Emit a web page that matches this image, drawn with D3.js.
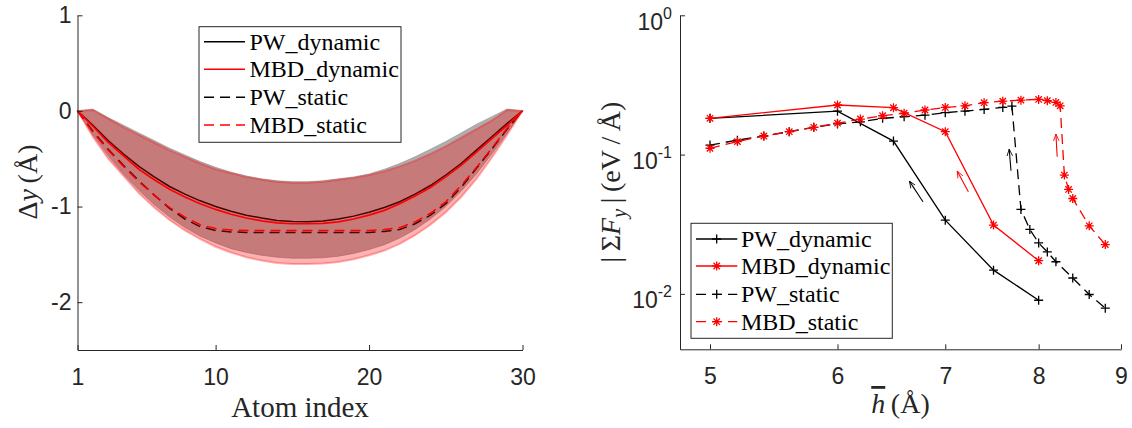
<!DOCTYPE html>
<html><head><meta charset="utf-8">
<script src="https://cdn.jsdelivr.net/npm/d3@7"></script>
<style>body{margin:0;background:#fff} svg{display:block}</style>
</head><body><svg id="c" width="1132" height="428"></svg>
<script>
// ---------------- DATA (left panel) ----------------
const atomIndex = [1,2,3,4,5,6,7,8,9,10,11,12,13,14,15,16,17,18,19,20,21,22,23,24,25,26,27,28,29,30];
const pwDynMean  = [0,-0.15,-0.31,-0.45,-0.58,-0.69,-0.79,-0.87,-0.94,-1.00,-1.05,-1.09,-1.12,-1.145,-1.157,-1.16,-1.15,-1.13,-1.10,-1.06,-1.01,-0.95,-0.87,-0.78,-0.67,-0.55,-0.41,-0.27,-0.13,0];
const mbdDynMean = [0,-0.16,-0.33,-0.47,-0.61,-0.72,-0.82,-0.90,-0.97,-1.03,-1.08,-1.12,-1.15,-1.17,-1.18,-1.18,-1.175,-1.16,-1.13,-1.09,-1.04,-0.97,-0.89,-0.80,-0.69,-0.57,-0.43,-0.29,-0.15,0];
const pwStaMean  = [0,-0.21,-0.40,-0.57,-0.73,-0.88,-1.02,-1.13,-1.21,-1.25,-1.265,-1.27,-1.27,-1.27,-1.27,-1.27,-1.27,-1.27,-1.27,-1.27,-1.26,-1.24,-1.18,-1.09,-0.97,-0.80,-0.60,-0.40,-0.19,0];
const mbdStaMean = [0,-0.22,-0.41,-0.58,-0.74,-0.88,-1.01,-1.11,-1.19,-1.23,-1.245,-1.25,-1.25,-1.25,-1.25,-1.25,-1.25,-1.25,-1.25,-1.25,-1.24,-1.22,-1.16,-1.07,-0.95,-0.78,-0.59,-0.39,-0.18,0];
const pwBandUp   = [0,0.02,-0.07,-0.15,-0.23,-0.31,-0.39,-0.46,-0.53,-0.59,-0.64,-0.68,-0.71,-0.73,-0.74,-0.74,-0.73,-0.71,-0.69,-0.66,-0.61,-0.55,-0.48,-0.40,-0.32,-0.23,-0.14,-0.06,0.02,0];
const pwBandLo   = [0,-0.25,-0.47,-0.66,-0.83,-0.98,-1.11,-1.22,-1.31,-1.38,-1.44,-1.48,-1.51,-1.53,-1.54,-1.54,-1.535,-1.52,-1.49,-1.45,-1.40,-1.33,-1.24,-1.13,-1.00,-0.84,-0.66,-0.45,-0.23,0];
const mbdBandUp  = [0,0.01,-0.08,-0.17,-0.25,-0.33,-0.41,-0.48,-0.55,-0.61,-0.65,-0.69,-0.72,-0.74,-0.75,-0.75,-0.74,-0.72,-0.70,-0.67,-0.63,-0.58,-0.52,-0.45,-0.37,-0.28,-0.19,-0.10,0.01,0];
const mbdBandLo  = [0,-0.27,-0.50,-0.68,-0.86,-1.01,-1.14,-1.25,-1.34,-1.42,-1.48,-1.53,-1.565,-1.59,-1.60,-1.60,-1.595,-1.58,-1.55,-1.51,-1.46,-1.39,-1.30,-1.19,-1.06,-0.90,-0.71,-0.49,-0.25,0];
const xTicksL = [1,10,20,30];
const yTicksL = [-2,-1,0,1];

// ---------------- DATA (right panel) ----------------
const hDyn = [5,6,6.5,7,7.5,8];
const pwDyn = [0.182,0.205,0.125,0.0338,0.0148,0.0090];
const mbdDyn = [0.182,0.227,0.217,0.146,0.0312,0.0173];
const hPwSta = [5,5.2,5.4,5.6,5.8,6.0,6.2,6.4,6.6,6.8,7.0,7.2,7.4,7.6,7.7,7.8,7.9,8.0,8.1,8.2,8.4,8.6,8.8];
const pwSta = [0.117,0.127,0.136,0.146,0.157,0.166,0.172,0.182,0.187,0.192,0.200,0.205,0.211,0.218,0.223,0.0404,0.029,0.0232,0.020,0.017,0.0130,0.0099,0.0079];
const hMbdSta = [5,5.2,5.4,5.6,5.8,6.0,6.2,6.4,6.6,6.8,7.0,7.2,7.4,7.6,7.8,8.0,8.1,8.2,8.25,8.3,8.35,8.4,8.6,8.8];
const mbdSta = [0.111,0.124,0.136,0.146,0.157,0.168,0.180,0.190,0.198,0.209,0.218,0.224,0.236,0.242,0.246,0.249,0.244,0.237,0.224,0.0713,0.0562,0.0484,0.0308,0.0226];
const xTicksR = [5,6,7,8,9];
const yTicksR = [1,0.1,0.01];
const yTickExp = ['0','-1','-2'];
// annotation arrows (data coords): tail -> head
const arrowTailX = [6.78,7.235,7.69,8.215];
const arrowTailY = [0.0458,0.054,0.0765,0.0964];
const arrowHeadX = [6.65,7.12,7.67,8.20];
const arrowHeadY = [0.0645,0.0761,0.1095,0.1404];
const arrowColor = ['#000','#f00','#000','#f00'];

const legendNames = ['PW_dynamic','MBD_dynamic','PW_static','MBD_static'];

// ---------------- STYLE ----------------
const SANS = "'Liberation Sans', Arial, Helvetica, sans-serif";
const SERIF = "'Liberation Serif', 'Times New Roman', serif";
const AX = '#262626';
const DASH = '10,6';

const svg = d3.select('#c');
const defs = svg.append('defs');
['#000','#f00'].forEach((c,i)=>{
  defs.append('marker').attr('id','ah'+i).attr('viewBox','0 0 10 10').attr('refX',10).attr('refY',5)
    .attr('markerWidth',7).attr('markerHeight',7).attr('orient','auto').attr('markerUnits','userSpaceOnUse')
    .append('path').attr('d','M0,1 L10,5 L0,9').attr('fill','none').attr('stroke',c).attr('stroke-width',1.2);
});

function styleAxis(g){
  g.attr('font-family',SANS).attr('font-size',23);
  g.select('.domain').attr('stroke',AX).attr('stroke-width',1);
  g.selectAll('.tick line').attr('stroke',AX).attr('stroke-width',1);
  g.selectAll('.tick text').attr('fill',AX);
}

// ================= LEFT PANEL =================
const xL = d3.scaleLinear().domain([1,30]).range([77.5,522.5]);
const yL = d3.scaleLinear().domain([-2.5,1]).range([350,15.3]);
const gL = svg.append('g');

const band = (lo,up)=> d3.area().x((d,i)=>xL(atomIndex[i])).y0((d,i)=>yL(lo[i])).y1((d,i)=>yL(up[i]))(atomIndex);
const lineL = arr => d3.line().x((d,i)=>xL(atomIndex[i])).y(d=>yL(d))(arr);

gL.append('path').attr('d',band(pwBandLo,pwBandUp)).attr('fill','rgb(128,128,128)').attr('fill-opacity',0.63)
  .attr('stroke','rgb(128,128,128)').attr('stroke-opacity',0.5).attr('stroke-width',1);
gL.append('path').attr('d',lineL(pwDynMean)).attr('fill','none').attr('stroke','#000').attr('stroke-width',1.5);
gL.append('path').attr('d',lineL(pwStaMean)).attr('fill','none').attr('stroke','#000').attr('stroke-width',1.5).attr('stroke-dasharray',DASH);
gL.append('path').attr('d',band(mbdBandLo,mbdBandUp)).attr('fill','rgb(255,0,0)').attr('fill-opacity',0.3)
  .attr('stroke','rgb(255,0,0)').attr('stroke-opacity',0.3).attr('stroke-width',2);
gL.append('path').attr('d',lineL(mbdDynMean)).attr('fill','none').attr('stroke','#f00').attr('stroke-width',1.7);
gL.append('path').attr('d',lineL(mbdStaMean)).attr('fill','none').attr('stroke','#f00').attr('stroke-width',1.5).attr('stroke-dasharray',DASH);

gL.append('g').attr('transform',`translate(0,${yL.range()[0]})`)
  .call(d3.axisBottom(xL).tickValues(xTicksL).tickFormat(d=>String(d)).tickSizeInner(-5).tickSizeOuter(0).tickPadding(18.5))
  .call(styleAxis);
gL.append('g').attr('transform',`translate(${xL.range()[0]},0)`)
  .call(d3.axisLeft(yL).tickValues(yTicksL).tickFormat(d=>String(d)).tickSizeInner(-5).tickSizeOuter(0).tickPadding(6))
  .call(styleAxis);

gL.append('text').attr('x',(xL.range()[0]+xL.range()[1])/2).attr('y',416.5).attr('text-anchor','middle')
  .attr('font-family',SERIF).attr('font-size',29).attr('fill',AX).text('Atom index');
const ylabL = gL.append('text').attr('transform','translate(37,182) rotate(-90)').attr('text-anchor','middle')
  .attr('font-family',SERIF).attr('font-size',28).attr('fill',AX);
ylabL.append('tspan').text('\u0394');
ylabL.append('tspan').attr('font-style','italic').text('y');
ylabL.append('tspan').text('\u2009(\u00C5)');

// left legend
const legL = gL.append('g');
legL.append('rect').attr('x',199).attr('y',26.7).attr('width',202).attr('height',115.6)
  .attr('fill','#fff').attr('stroke',AX).attr('stroke-width',1);
const legLY = [41.7,69.3,97.3,125];
const legLStyle = [['#000',null],['#f00',null],['#000',DASH],['#f00',DASH]];
legendNames.forEach((n,i)=>{
  legL.append('line').attr('x1',204).attr('x2',245).attr('y1',legLY[i]).attr('y2',legLY[i])
    .attr('stroke',legLStyle[i][0]).attr('stroke-width',1.5).attr('stroke-dasharray',legLStyle[i][1]);
  legL.append('text').attr('x',249.5).attr('y',legLY[i]+8).attr('font-family',SERIF).attr('font-size',24)
    .attr('fill','#000').text(n);
});

// ================= RIGHT PANEL =================
const xR = d3.scaleLog().domain([4.79,9]).range([680,1121]);
const yR = d3.scaleLog().domain([0.004,1]).range([349.3,15.3]);
const gR = svg.append('g');
const plusP = 'M-4.5,0H4.5M0,-4.5V4.5';
const starP = 'M-4.5,0H4.5M0,-4.5V4.5M-3.2,-3.2L3.2,3.2M-3.2,3.2L3.2,-3.2';

function series(xs, ys, color, dash, mk){
  const ln = d3.line().x((d,i)=>xR(xs[i])).y(d=>yR(d));
  gR.append('path').attr('d',ln(ys)).attr('fill','none').attr('stroke',color).attr('stroke-width',1.3)
    .attr('stroke-dasharray',dash);
  gR.append('g').selectAll('path').data(ys).join('path')
    .attr('transform',(d,i)=>`translate(${xR(xs[i])},${yR(d)})`)
    .attr('d',mk).attr('fill','none').attr('stroke',color).attr('stroke-width',1.3);
}
series(hDyn,pwDyn,'#000',null,plusP);
series(hDyn,mbdDyn,'#f00',null,starP);
series(hPwSta,pwSta,'#000',DASH,plusP);
series(hMbdSta,mbdSta,'#f00',DASH,starP);

arrowTailX.forEach((d,i)=>{
  gR.append('line').attr('x1',xR(arrowTailX[i])).attr('y1',yR(arrowTailY[i]))
    .attr('x2',xR(arrowHeadX[i])).attr('y2',yR(arrowHeadY[i]))
    .attr('stroke',arrowColor[i]).attr('stroke-width',1.1)
    .attr('marker-end',`url(#ah${arrowColor[i]==='#000'?0:1})`);
});

gR.append('g').attr('transform',`translate(0,${yR.range()[0]})`)
  .call(d3.axisBottom(xR).tickValues(xTicksR).tickFormat(d=>String(d)).tickSizeInner(-5).tickSizeOuter(0).tickPadding(18.5))
  .call(styleAxis);
const gyR = gR.append('g').attr('transform',`translate(${xR.range()[0]},0)`)
  .call(d3.axisLeft(yR).tickValues(yTicksR).tickFormat('').tickSizeInner(-5).tickSizeOuter(0))
  .call(styleAxis);
gyR.selectAll('.tick text').each(function(d,i){
  const t = d3.select(this).text(null).attr('x',-8).attr('dy',null).attr('y',14).attr('text-anchor','end');
  t.append('tspan').text('10');
  t.append('tspan').attr('font-size',16).attr('dy',-11).text(yTickExp[i]);
});

const xlabR = gR.append('text').attr('x',(xR.range()[0]+xR.range()[1])/2).attr('y',413).attr('text-anchor','middle')
  .attr('font-family',SERIF).attr('font-size',28).attr('fill',AX);
xlabR.append('tspan').attr('font-style','italic').style('text-decoration','overline').text('h');
xlabR.append('tspan').text('\u2009(\u00C5)');

const ylabR = gR.append('text').attr('transform','translate(620,182) rotate(-90)').attr('text-anchor','middle')
  .attr('font-family',SERIF).attr('font-size',28).attr('fill',AX);
ylabR.append('tspan').text('|\u2009\u03A3');
ylabR.append('tspan').attr('font-style','italic').text('F');
ylabR.append('tspan').attr('font-style','italic').attr('font-size',20).attr('dy',6).text('y');
ylabR.append('tspan').attr('dy',-6).text('\u2009|\u2009(eV\u2009/\u2009\u00C5)');

// right legend
const legR = gR.append('g');
legR.append('rect').attr('x',691).attr('y',223.3).attr('width',201.3).attr('height',115)
  .attr('fill','#fff').attr('stroke',AX).attr('stroke-width',1);
const legRY = [239,266,294.3,321.7];
const legRStyle = [['#000',null,plusP],['#f00',null,starP],['#000',DASH,plusP],['#f00',DASH,starP]];
legendNames.forEach((n,i)=>{
  legR.append('line').attr('x1',696).attr('x2',737.3).attr('y1',legRY[i]).attr('y2',legRY[i])
    .attr('stroke',legRStyle[i][0]).attr('stroke-width',1.3).attr('stroke-dasharray',legRStyle[i][1]);
  legR.append('path').attr('transform',`translate(716.7,${legRY[i]})`).attr('d',legRStyle[i][2])
    .attr('fill','none').attr('stroke',legRStyle[i][0]).attr('stroke-width',1.3);
  legR.append('text').attr('x',741).attr('y',legRY[i]+8).attr('font-family',SERIF).attr('font-size',24)
    .attr('fill','#000').text(n);
});
</script></body></html>
